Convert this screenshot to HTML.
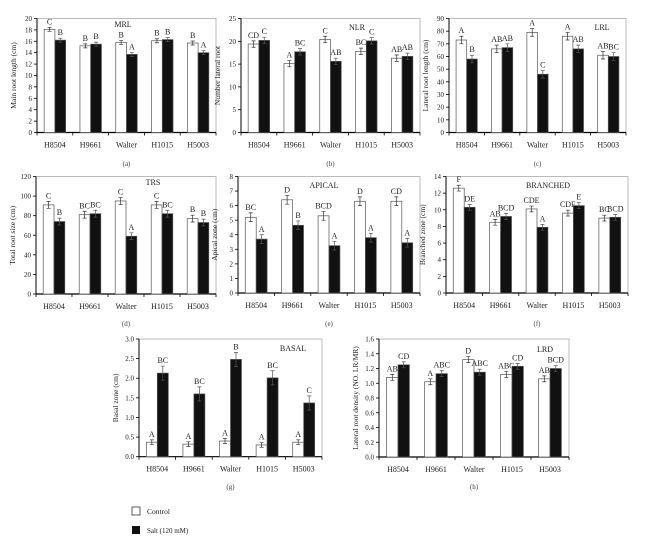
<!DOCTYPE html>
<html><head><meta charset="utf-8"><style>
body{margin:0;background:#fff;}
svg{display:block;font-family:"Liberation Serif",serif;}
</style></head><body>
<svg id="fig" width="650" height="544" viewBox="0 0 650 544"></svg>
<script>
const categories=["H8504","H9661","Walter","H1015","H5003"];
const mrlControl=[18.1,15.2,15.8,16.1,15.7];
const mrlSalt=[16.2,15.5,13.7,16.3,14.0];
const mrlLetters=[["C","B"],["B","B"],["B","A"],["B","B"],["B","A"]];
const nlrControl=[19.4,15.1,20.4,17.8,16.3];
const nlrSalt=[20.2,17.7,15.6,20.1,16.7];
const nlrLetters=[["CD","C"],["A","BC"],["C","AB"],["BC","C"],["AB","AB"]];
const lrlControl=[73,66,79,76,61];
const lrlSalt=[58,67,46,66,60];
const lrlLetters=[["A","B"],["AB","AB"],["A","C"],["A","AB"],["AB","BC"]];
const trsControl=[91,81,95,91,77];
const trsSalt=[74,82,59,82,73];
const trsLetters=[["C","B"],["BC","BC"],["C","A"],["C","BC"],["B","B"]];
const apicalControl=[5.2,6.4,5.3,6.3,6.3];
const apicalSalt=[3.7,4.65,3.25,3.8,3.45];
const apicalLetters=[["BC","A"],["D","B"],["BCD","A"],["D","A"],["CD","A"]];
const branchedControl=[12.6,8.5,10.1,9.6,9.0];
const branchedSalt=[10.3,9.2,7.9,10.5,9.1];
const branchedLetters=[["F","DE"],["AB","BCD"],["CDE","A"],["CDE","E"],["BC","BCD"]];
const basalControl=[0.37,0.32,0.40,0.30,0.37];
const basalSalt=[2.13,1.60,2.48,2.01,1.37];
const basalLetters=[["A","BC"],["A","BC"],["A","B"],["A","BC"],["A","C"]];
const lrdControl=[1.08,1.02,1.32,1.12,1.06];
const lrdSalt=[1.25,1.13,1.15,1.23,1.20];
const lrdLetters=[["AB","CD"],["A","ABC"],["D","ABC"],["ABC","CD"],["AB","BCD"]];

const NS="http://www.w3.org/2000/svg";
const svg=document.getElementById('fig');
function mk(tag,attrs,parent,text){const e=document.createElementNS(NS,tag);for(const k in attrs)e.setAttribute(k,attrs[k]);if(text!==undefined)e.textContent=text;parent.appendChild(e);return e;}

const panels=[
 {id:"a",x0:37,x1:216,yt:18.5,yb:132.5,max:20,step:2,dec:0,ctl:mrlControl,salt:mrlSalt,let:mrlLetters,err:0.35,title:"Main root length (cm)",tag:"MRL",tx:123,ty:27,cy:166},
 {id:"b",x0:241,x1:420,yt:18.5,yb:132.5,max:25,step:5,dec:0,ctl:nlrControl,salt:nlrSalt,let:nlrLetters,err:0.7,title:"Number lateral root",tag:"NLR",tx:357,ty:30,cy:166},
 {id:"c",x0:449,x1:626,yt:18.5,yb:132.5,max:90,step:10,dec:0,ctl:lrlControl,salt:lrlSalt,let:lrlLetters,err:3,title:"Lateral root length (cm)",tag:"LRL",tx:602,ty:30,cy:166},
 {id:"d",x0:36,x1:216,yt:176.5,yb:294,max:120,step:20,dec:0,ctl:trsControl,salt:trsSalt,let:trsLetters,err:3.5,title:"Total root size (cm)",tag:"TRS",tx:153,ty:185,cy:326},
 {id:"e",x0:238,x1:420,yt:176.5,yb:293,max:8,step:1,dec:0,ctl:apicalControl,salt:apicalSalt,let:apicalLetters,err:0.3,title:"Apical zone (cm)",tag:"APICAL",tx:324,ty:188,cy:326},
 {id:"f",x0:446,x1:628,yt:176.5,yb:293,max:14,step:2,dec:0,ctl:branchedControl,salt:branchedSalt,let:branchedLetters,err:0.35,title:"Branched zone (cm)",tag:"BRANCHED",tx:548,ty:188,cy:326},
 {id:"g",x0:139,x1:322,yt:339,yb:456.7,max:3,step:0.5,dec:1,ctl:basalControl,salt:basalSalt,let:basalLetters,err:0.06,errS:0.18,title:"Basal zone (cm)",tag:"BASAL",tx:293,ty:351,cy:489},
 {id:"h",x0:379,x1:569,yt:339,yb:457,max:1.6,step:0.2,dec:1,ctl:lrdControl,salt:lrdSalt,let:lrdLetters,err:0.04,title:"Lateral root density (NO. LR/MR)",tag:"LRD",tx:545,ty:352,cy:489}
];

panels.forEach(p=>{
 const g=mk('g',{},svg);
 
 
 const y=v=>p.yb-(v/p.max)*(p.yb-p.yt);
 const w=(p.x1-p.x0)/5;
 const xc=i=>p.x0+w*(i+0.5);
 // frame
 const fr=mk('path',{d:`M${p.x0},${p.yt}H${p.x1}V${p.yb}`,fill:'none',stroke:'#bbb','stroke-width':1},g);
 
 
 // y axis ticks
 const ya=mk('g',{},g);
 
 
 mk('line',{x1:p.x0,x2:p.x0,y1:p.yt,y2:p.yb,stroke:'#000','stroke-width':1},ya);
 const n=Math.round(p.max/p.step);
 for(let k=0;k<=n;k++){const v=k*p.step;const yy=y(v);
  mk('line',{x1:p.x0-3,x2:p.x0,y1:yy,y2:yy,stroke:'#000','stroke-width':0.8},ya);
  const t=mk('text',{x:p.x0-5,y:yy+2.5,'font-size':7,'text-anchor':'end',fill:'#222'},ya,v.toFixed(p.dec));
  
  
 }
 const yt=mk('text',{x:0,y:0,'font-size':7.5,'text-anchor':'middle',fill:'#222',transform:`translate(${p.x0-21},${(p.yt+p.yb)/2}) rotate(-90)`},g,p.title);
 
 
 // x axis
 const xa=mk('g',{},g);
 
 
 mk('line',{x1:p.x0,x2:p.x1,y1:p.yb,y2:p.yb,stroke:'#000','stroke-width':1.2},xa);
 for(let i=0;i<=5;i++){const xx=p.x0+w*i;mk('line',{x1:xx,x2:xx,y1:p.yb,y2:p.yb+3,stroke:'#000','stroke-width':0.8},xa);}
 categories.forEach((c,i)=>{const t=mk('text',{x:xc(i),y:p.yb+15,'font-size':8,'text-anchor':'middle',fill:'#222'},xa,c);
  
  });
 // bars
 const bw=w*0.3;
 categories.forEach((c,i)=>{
  [[p.ctl[i],'#fff',-bw,p.err,p.let[i][0],'control'],[p.salt[i],'#111',0,p.errS||p.err,p.let[i][1],'salt']].forEach(s=>{
   const [v,fill,off,e,lt,nm]=s;
   const bx=xc(i)+off, by=y(v);
   const r=mk('rect',{x:bx,y:by,width:bw,height:p.yb-by,fill:fill,stroke:'#555','stroke-width':0.7},g);
   
   
   const cx=bx+bw/2, e1=y(v+e), e2=y(v-e);
   mk('path',{d:`M${cx},${e1}V${e2}M${cx-2},${e1}H${cx+2}M${cx-2},${e2}H${cx+2}`,stroke:fill==='#fff'?'#333':'#555','stroke-width':0.7,fill:'none'},g);
   const lb=mk('text',{x:cx,y:e1-3,'font-size':8,'text-anchor':'middle',fill:'#222'},g,lt);
   
   
  });
 });
 const tg=mk('text',{x:p.tx,y:p.ty,'font-size':8,'text-anchor':'middle',fill:'#222'},g,p.tag);
 
 
 const cp=mk('text',{x:(p.x0+p.x1)/2,y:p.cy,'font-size':7,'text-anchor':'middle',fill:'#444'},g,'('+p.id+')');
 
 
});
// legend
const lg=mk('g',{},svg);


const l1=mk('rect',{x:132,y:507,width:8,height:8,fill:'#fff',stroke:'#333','stroke-width':0.8},lg);


const t1=mk('text',{x:147,y:514,'font-size':7.5,fill:'#222'},lg,'Control');


const l2=mk('rect',{x:132,y:526,width:8,height:8,fill:'#111'},lg);


const t2=mk('text',{x:147,y:533,'font-size':7,fill:'#222'},lg,'Salt (120 mM)');


</script>
</body></html>
